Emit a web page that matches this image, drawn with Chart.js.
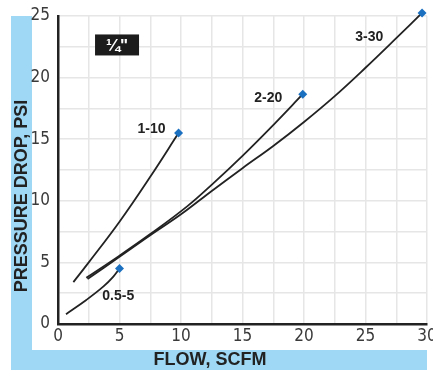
<!DOCTYPE html>
<html>
<head>
<meta charset="utf-8">
<script src="https://cdn.jsdelivr.net/npm/chart.js@4/dist/chart.umd.min.js"></script>
<style>
  html, body { margin: 0; padding: 0; background: #fff; }
  #wrap { width: 433px; height: 370px; position: relative; }
</style>
</head>
<body>
<div id="wrap"><canvas id="c"></canvas></div>
<script>
// ── données (débit SCFM / perte de charge PSI)
const flow05  = [0.65, 2.3, 3.7, 4.5, 5];
const psi05   = [0.8, 1.95, 3.05, 3.85, 4.5];

const flow110 = [1.25, 2.5, 5, 7.5, 9.8];
const psi110  = [3.4, 5.0, 8.3, 11.95, 15.5];

const flow220 = [2.3, 5, 7.5, 10.5, 12.6, 15, 17.5, 19.9];
const psi220  = [3.75, 5.55, 7.3, 9.55, 11.4, 13.65, 16.15, 18.65];

const flow330 = [2.4, 5, 7.5, 10, 12.5, 15, 17.5, 20, 22.5, 25, 27.5, 29.6];
const psi330  = [3.65, 5.45, 7.2, 8.9, 10.8, 12.65, 14.45, 16.4, 18.5, 20.8, 23.2, 25.25];

const seriesNames = ['0.5-5', '1-10', '2-20', '3-30'];
const labelX = [4.9, 7.6, 17.1, 25.3];
const labelY = [2.27, 15.8, 18.32, 23.3];

const sizeLabel = '¼"';
const sizeLabelX = 4.8, sizeLabelY = 22.65;

const xTitle = 'FLOW, SCFM';
const yTitle = 'PRESSURE DROP, PSI';

const BLUE_BAND = '#9ed8f4';
const INK       = '#222';
const DIAMOND   = '#1c70c0';
const NARROW    = "'Liberation Sans Narrow', 'DejaVu Sans Condensed', sans-serif";
const BOLD      = "'Liberation Sans', Arial, sans-serif";

function pts(xs, ys) { return xs.map((x, i) => ({ x, y: ys[i] })); }

function serie(xs, ys) {
  const n = xs.length;
  return {
    data: pts(xs, ys),
    borderColor: INK,
    borderWidth: 1.8,
    tension: 0.4,
    pointStyle: 'rectRot',
    pointRadius: xs.map((_, i) => i === n - 1 ? 4.5 : 0),
    pointBackgroundColor: DIAMOND,
    pointBorderColor: DIAMOND,
    pointBorderWidth: 0,
    clip: false
  };
}

// ── fonds bleus, titres d'axes, étiquettes
const decor = {
  id: 'decor',
  beforeDraw(chart) {
    const ctx = chart.ctx;
    ctx.save();
    ctx.fillStyle = '#fff';
    ctx.fillRect(0, 0, chart.width, chart.height);
    ctx.fillStyle = BLUE_BAND;
    ctx.fillRect(11, 16, 21, 354);
    ctx.fillRect(11, 350, 416, 20);
    ctx.restore();
  },
  afterDraw(chart) {
    const ctx = chart.ctx;
    const xs = chart.scales.x, ys = chart.scales.y;
    ctx.save();
    ctx.fillStyle = INK;
    ctx.font = 'bold 18px ' + BOLD;
    ctx.textAlign = 'center';
    ctx.textBaseline = 'middle';
    ctx.fillText(xTitle, 210, 360);
    ctx.translate(22, 196);
    ctx.rotate(-Math.PI / 2);
    ctx.fillText(yTitle, 0, 0);
    ctx.restore();

    ctx.save();
    ctx.font = 'bold 14px ' + BOLD;
    ctx.textAlign = 'center';
    ctx.textBaseline = 'middle';
    ctx.fillStyle = INK;
    seriesNames.forEach((t, i) => {
      ctx.fillText(t, xs.getPixelForValue(labelX[i]), ys.getPixelForValue(labelY[i]));
    });
    const bx = xs.getPixelForValue(sizeLabelX), by = ys.getPixelForValue(sizeLabelY);
    ctx.fillStyle = '#1c1c1c';
    ctx.fillRect(bx - 22, by - 10.5, 44, 21);
    ctx.fillStyle = '#fff';
    ctx.font = 'bold 17px ' + BOLD;
    ctx.fillText(sizeLabel, bx, by + 1);
    ctx.restore();
  }
};

new Chart(document.getElementById('c'), {
  type: 'line',
  data: {
    datasets: [
      serie(flow05, psi05),
      serie(flow110, psi110),
      serie(flow220, psi220),
      serie(flow330, psi330)
    ]
  },
  options: {
    responsive: true,
    maintainAspectRatio: false,
    animation: false,
    layout: { padding: { left: 0, right: 6, top: 16, bottom: 0 } },
    plugins: { legend: { display: false }, tooltip: { enabled: false } },
    scales: {
      x: {
        type: 'linear', min: 0, max: 30,
        ticks: {
          stepSize: 2.5, padding: 2, maxRotation: 0, autoSkip: false,
          color: '#3a3a3a', font: { family: NARROW, size: 17 },
          callback: v => v % 5 === 0 ? v : ''
        },
        grid: { color: '#e6e6e6', lineWidth: 1.5, drawTicks: false },
        border: { color: INK, width: 2.5 },
        afterFit(s) { s.height = 46; s.paddingLeft = 0; s.paddingRight = 0; }
      },
      y: {
        type: 'linear', min: 0, max: 25,
        ticks: {
          stepSize: 2.5, padding: 8, autoSkip: false,
          color: '#3a3a3a', font: { family: NARROW, size: 17 },
          callback: v => v % 5 === 0 ? v : ''
        },
        grid: { color: '#e6e6e6', lineWidth: 1.5, drawTicks: false },
        border: { color: INK, width: 2.5 },
        afterFit(s) { s.width = 58; s.paddingTop = 0; s.paddingBottom = 0; }
      }
    }
  },
  plugins: [decor]
});
</script>
</body>
</html>
